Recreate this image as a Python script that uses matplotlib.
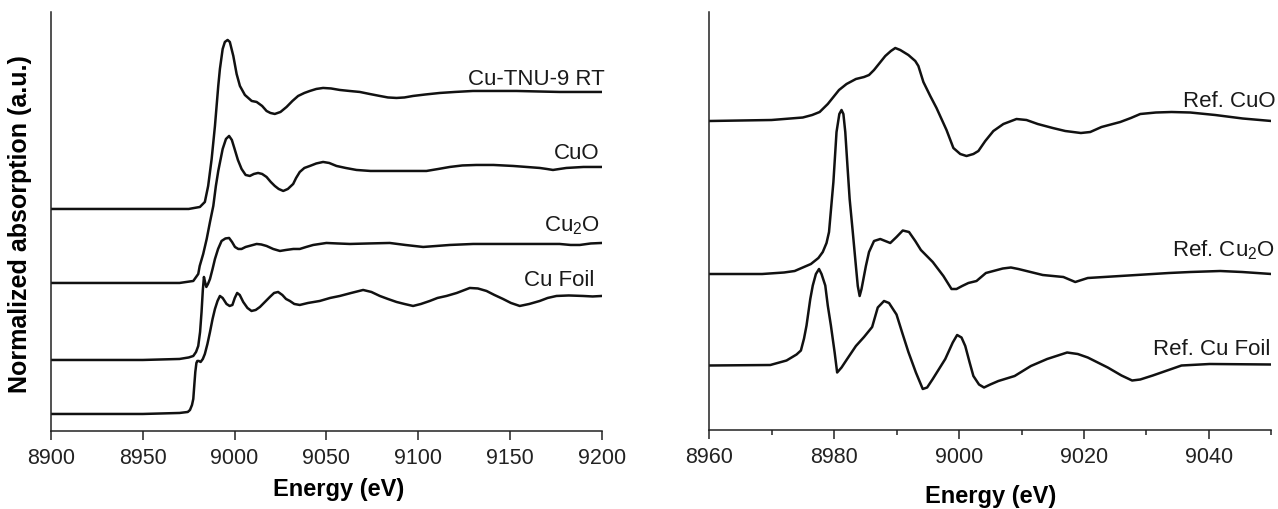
import numpy as np
import matplotlib.pyplot as plt
from matplotlib.ticker import MultipleLocator

plt.rcParams['font.family'] = ['Liberation Sans', 'DejaVu Sans']
plt.rcParams['mathtext.fontset'] = 'custom'
plt.rcParams['mathtext.rm'] = 'Liberation Sans'

# ---- panel izquierdo: XANES normalizado (eV, a.u.) ----
e_tnu = [8900, 8950, 8975, 8981.1, 8983.8, 8985.6, 8987.5, 8989.3, 8991.1, 8992.0, 8993.5, 8994.7,
         8996.2, 8997.4, 8999.3, 9001.1, 9002.9, 9005.6, 9009.3, 9012, 9015, 9017.4, 9019.5,
         9021.9, 9025, 9028.3, 9031.5, 9034.6, 9038, 9041, 9044.5, 9048.2, 9052.5, 9057.3,
         9062.5, 9068.2, 9073.5, 9079.1, 9083.5, 9088.2, 9092.5, 9097.2, 9104, 9111.8, 9120,
         9129.9, 9141, 9153.5, 9165, 9177, 9200]
mu_tnu = [0, 0, 0, 0.02, 0.07, 0.23, 0.50, 0.83, 1.23, 1.40, 1.60, 1.67,
          1.69, 1.67, 1.53, 1.35, 1.23, 1.14, 1.08, 1.07, 1.03, 0.98, 0.96,
          0.95, 0.97, 1.02, 1.08, 1.13, 1.16, 1.18, 1.20, 1.21, 1.205, 1.19,
          1.18, 1.17, 1.15, 1.13, 1.115, 1.11, 1.115, 1.13, 1.145, 1.16, 1.17,
          1.18, 1.18, 1.18, 1.175, 1.17, 1.17]

e_cuo = [8900, 8950, 8970, 8977.5, 8980.2, 8981, 8982.9, 8984.8, 8986.6, 8988.4, 8989.8, 8991.1,
         8993.5, 8995.3, 8997, 8998.5, 9000, 9001.8, 9003.8, 9006, 9008.3, 9010.5, 9012.8,
         9015, 9017.4, 9019.7, 9021.9, 9024, 9026.5, 9029, 9031.9, 9033.5, 9035.5, 9038,
         9041, 9044.5, 9048.2, 9051.5, 9055.5, 9060.5, 9066.4, 9074, 9082.7, 9093, 9104.5,
         9111, 9117.2, 9124, 9131.7, 9141, 9151.7, 9159, 9166.2, 9170, 9173.4, 9177, 9180.7,
         9190, 9200]
mu_cuo = [0, 0, 0, 0.02, 0.09, 0.17, 0.29, 0.44, 0.61, 0.77, 0.97, 1.12,
          1.34, 1.44, 1.47, 1.43, 1.34, 1.23, 1.14, 1.08, 1.07, 1.09, 1.10,
          1.09, 1.06, 1.01, 0.97, 0.94, 0.92, 0.94, 0.99, 1.05, 1.11, 1.15,
          1.17, 1.195, 1.21, 1.20, 1.17, 1.15, 1.13, 1.12, 1.12, 1.12, 1.12,
          1.14, 1.16, 1.175, 1.18, 1.18, 1.17, 1.16, 1.15, 1.14, 1.13, 1.14, 1.15,
          1.16, 1.16]

e_cu2o = [8900, 8950, 8970, 8975, 8977.5, 8979, 8980.2, 8981.2, 8982, 8982.7, 8983.3, 8983.9,
          8984.6, 8985.5, 8986.6, 8988, 8989.3, 8991, 8992.9, 8995, 8997, 8998.6, 9000.2,
          9002, 9003.8, 9006, 9008, 9012, 9014.5, 9017.4, 9021, 9024.7, 9028, 9032, 9035.5,
          9039, 9042.8, 9050, 9056, 9062.8, 9073, 9084.5, 9093, 9102.7, 9110, 9117.2, 9130,
          9144.4, 9160, 9177, 9183, 9188, 9194, 9200]
mu_cu2o = [0, 0, 0.01, 0.025, 0.04, 0.08, 0.14, 0.28, 0.48, 0.70, 0.83, 0.78,
           0.73, 0.76, 0.81, 0.91, 1.01, 1.11, 1.19, 1.215, 1.22, 1.18, 1.13,
           1.11, 1.11, 1.13, 1.14, 1.16, 1.155, 1.14, 1.11, 1.09, 1.10, 1.11, 1.11,
           1.13, 1.15, 1.17, 1.165, 1.16, 1.165, 1.17, 1.15, 1.13, 1.14, 1.15, 1.16,
           1.16, 1.16, 1.16, 1.15, 1.15, 1.165, 1.17]

e_foil = [8900, 8950, 8970, 8974.5, 8975.7, 8976.8, 8977.5, 8978.1, 8978.6, 8979.2, 8979.7, 8980.5,
          8981.5, 8982.7, 8983.8, 8985.2, 8986.6, 8988, 8989.3, 8990.7, 8992, 8993.5, 8995.6,
          8997.3, 8998.8, 9000.1, 9001.4, 9002.8, 9004.7, 9007, 9009.2, 9011.5, 9013.8, 9016.5,
          9019.2, 9021.5, 9023.7, 9026, 9028, 9030.1, 9032.5, 9035.5, 9040, 9046.4, 9052,
          9057.3, 9063.5, 9070, 9074.5, 9079.1, 9083.5, 9088.2, 9092.5, 9097.2, 9101.5, 9106.3,
          9110.5, 9115.4, 9121, 9128.1, 9132.5, 9137.2, 9141.5, 9146.2, 9150.5, 9155.3, 9160.5,
          9166.2, 9170.5, 9175.3, 9182, 9189.8, 9195, 9200]
mu_foil = [0, 0, 0.01, 0.02, 0.04, 0.09, 0.15, 0.30, 0.42, 0.51, 0.53, 0.53,
           0.52, 0.55, 0.60, 0.70, 0.82, 0.95, 1.05, 1.13, 1.18, 1.16, 1.10,
           1.08, 1.09, 1.16, 1.21, 1.19, 1.12, 1.06, 1.03, 1.04, 1.07, 1.12,
           1.17, 1.21, 1.22, 1.19, 1.15, 1.13, 1.10, 1.09, 1.11, 1.13, 1.16,
           1.18, 1.21, 1.24, 1.22, 1.18, 1.15, 1.12, 1.10, 1.08, 1.10, 1.13,
           1.16, 1.18, 1.21, 1.26, 1.255, 1.23, 1.19, 1.15, 1.11, 1.08, 1.10,
           1.13, 1.16, 1.18, 1.185, 1.18, 1.175, 1.18]

# ---- panel derecho: primera derivada (referencias) ----
e_rcuo = [8960, 8970, 8975, 8976.5, 8977.7, 8979, 8980.8, 8982, 8983.5, 8984.8, 8985.6, 8986.4,
          8987.3, 8988.2, 8989.1, 8989.8, 8990.6, 8991.9, 8993, 8993.5, 8994.3, 8995.4, 8996.4,
          8998, 8999.1, 9000.2, 9001.2, 9002.3, 9003.1, 9004.2, 9005.5, 9007.1, 9009.2, 9010.8,
          9012.6, 9015, 9017, 9019.5, 9021, 9022.8, 9025.8, 9027.5, 9029, 9031.5, 9034, 9037,
          9041, 9045.4, 9050]
d_rcuo = [0, 0.01, 0.035, 0.06, 0.09, 0.17, 0.31, 0.37, 0.42, 0.44, 0.46, 0.51,
          0.58, 0.65, 0.70, 0.73, 0.71, 0.66, 0.60, 0.55, 0.39, 0.25, 0.13,
          -0.09, -0.27, -0.33, -0.35, -0.33, -0.30, -0.20, -0.10, -0.03, 0.02, 0.01,
          -0.03, -0.07, -0.10, -0.12, -0.11, -0.06, -0.01, 0.03, 0.07, 0.085, 0.09, 0.085,
          0.06, 0.025, 0]

e_rcu2o = [8960, 8968.5, 8972, 8973.7, 8976.3, 8977.5, 8978.2, 8978.8, 8979.2, 8979.9, 8980.4,
           8980.85, 8981.2, 8981.5, 8981.8, 8982.15, 8982.5, 8983, 8983.5, 8983.8, 8984.1,
           8984.4, 8985.1, 8985.6, 8986.4, 8987.4, 8988.2, 8989, 8990, 8991, 8992, 8993,
           8993.9, 8995.8, 8997.5, 8998.8, 8999.6, 9000.5, 9001.5, 9002.8, 9004.3, 9005.5,
           9007, 9008.3, 9009.5, 9010.8, 9013.4, 9016.7, 9018.6, 9020.6, 9025.8, 9028.4,
           9033.6, 9037, 9041.8, 9045.3, 9050]
d_rcu2o = [0, 0, 0.015, 0.03, 0.10, 0.16, 0.22, 0.31, 0.42, 0.92, 1.42,
           1.60, 1.64, 1.60, 1.42, 1.08, 0.75, 0.42, 0.08, -0.12, -0.22,
           -0.15, 0.08, 0.22, 0.33, 0.35, 0.33, 0.31, 0.37, 0.435, 0.42, 0.33,
           0.24, 0.12, -0.02, -0.15, -0.15, -0.12, -0.09, -0.07, 0.01, 0.03,
           0.055, 0.065, 0.05, 0.03, -0.01, -0.03, -0.08, -0.04, -0.02, -0.01,
           0.01, 0.02, 0.03, 0.02, 0]

e_rfoil = [8960, 8969.8, 8972.4, 8974, 8974.7, 8975.2, 8975.6, 8976.2, 8976.6, 8977.1, 8977.6,
           8978.0, 8978.6, 8979, 8979.5, 8980.1, 8980.5, 8981.2, 8982.1, 8983.5, 8984.8, 8986.1,
           8987, 8988, 8988.8, 8990, 8990.9, 8991.9, 8993.1, 8994.2, 8994.9, 8995.8, 8997.8,
           8999, 8999.7, 9000.4, 9001, 9001.7, 9002.3, 9003.2, 9004, 9005, 9006.3, 9008.9,
           9011.5, 9014.1, 9017.3, 9019, 9020.6, 9023.8, 9026, 9027.7, 9029, 9031, 9035.6,
           9040.1, 9050]
d_rfoil = [0, 0.005, 0.05, 0.11, 0.15, 0.27, 0.40, 0.665, 0.80, 0.915, 0.965,
           0.915, 0.80, 0.60, 0.40, 0.13, -0.07, -0.02, 0.065, 0.195, 0.285, 0.385,
           0.58, 0.645, 0.625, 0.51, 0.33, 0.135, -0.07, -0.235, -0.22, -0.135, 0.065,
           0.23, 0.305, 0.28, 0.195, 0.03, -0.105, -0.19, -0.22, -0.19, -0.155, -0.105,
           -0.005, 0.065, 0.13, 0.115, 0.08, -0.02, -0.10, -0.15, -0.14, -0.10, 0.0,
           0.015, 0.01]

# desplazamientos verticales de cada espectro
off_left = [2.22, 1.48, 0.71, 0.17]
off_right = [3.09, 1.56, 0.645]

fig = plt.figure(figsize=(12.78, 5.10), dpi=100)
ax1 = fig.add_axes([0.0399, 0.153, 0.431, 0.8216])
ax2 = fig.add_axes([0.5548, 0.1549, 0.4401, 0.8196])

lw = 1.8
for e, mu, off in zip([e_tnu, e_cuo, e_cu2o, e_foil],
                      [mu_tnu, mu_cuo, mu_cu2o, mu_foil], off_left):
    ax1.plot(e, np.array(mu) + off, color='#111111', lw=lw, solid_joinstyle='round')

for e, d, off in zip([e_rcuo, e_rcu2o, e_rfoil],
                     [d_rcuo, d_rcu2o, d_rfoil], off_right):
    ax2.plot(e, np.array(d) + off, color='#111111', lw=lw, solid_joinstyle='round')

# etiquetas de las curvas
txt = dict(ha='right', va='baseline', fontsize=16, color='#1a1a1a')
ax1.text(9201.5, 3.47, 'Cu-TNU-9 RT', **txt)
ax1.text(9199, 2.727, 'CuO', **txt)
ax1.text(9199, 2.01, 'Cu$_\\mathregular{2}$O', **txt)
ax1.text(9196, 1.463, 'Cu Foil', **txt)
ax2.text(9050.6, 3.237, 'Ref. CuO', clip_on=False, **txt)
ax2.text(9050.6, 1.75, 'Ref. Cu$_\\mathregular{2}$O', clip_on=False, **txt)
ax2.text(9049.8, 0.76, 'Ref. Cu Foil', clip_on=False, **txt)

ax1.set_xlim(8900, 9200)
ax1.set_ylim(0, 4.19)
ax1.xaxis.set_major_locator(MultipleLocator(50))

ax2.set_xlim(8960, 9050)
ax2.set_ylim(0, 4.18)
ax2.xaxis.set_major_locator(MultipleLocator(20))
ax2.xaxis.set_minor_locator(MultipleLocator(10))

for ax in (ax1, ax2):
    for s in ('top', 'right'):
        ax.spines[s].set_visible(False)
    for s in ('left', 'bottom'):
        ax.spines[s].set_linewidth(1.1)
        ax.spines[s].set_color('#222222')
    ax.set_yticks([])
    ax.tick_params(axis='x', which='major', direction='out', length=6.5, width=1.1,
                   labelsize=15.5, pad=5, colors='#222222')
    ax.tick_params(axis='x', which='minor', direction='out', length=3.5, width=1.1,
                   colors='#222222')

ax1.set_xlabel('Energy (eV)', fontsize=17, fontweight='bold')
ax1.xaxis.set_label_coords(0.523, -0.11)
ax2.set_xlabel('Energy (eV)', fontsize=17, fontweight='bold')
ax2.xaxis.set_label_coords(0.5, -0.128)
ax1.set_ylabel('Normalized absorption (a.u.)', fontsize=18, fontweight='bold')
ax1.yaxis.set_label_coords(-0.034, 0.496)

fig.savefig('out.png', dpi=100)
